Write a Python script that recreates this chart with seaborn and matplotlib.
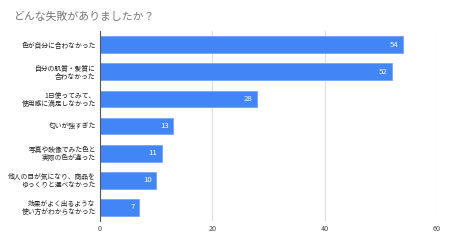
import matplotlib
matplotlib.use("Agg")
import matplotlib.pyplot as plt
import seaborn as sns
import pandas as pd

categories = [
    "色が自分に合わなかった",
    "自分の肌質・髪質に\n合わなかった",
    "1日使ってみて、\n使用感に満足しなかった",
    "匂いが強すぎた",
    "写真や映像でみた色と\n実際の色が違った",
    "他人の目が気になり、商品を\nゆっくりと選べなかった",
    "効果がよく出るような\n使い方がわからなかった",
]
values = [54, 52, 28, 13, 11, 10, 7]
xticks = [0, 20, 40, 60]
title = "どんな失敗がありましたか？"

sns.set_theme(style="white")
plt.rcParams['font.family'] = ['Noto Sans CJK JP', 'DejaVu Sans']

df = pd.DataFrame({"cat": categories, "val": values})

fig = plt.figure(figsize=(4.5, 2.43), dpi=100)
ax = fig.add_axes([0.222, 0.0905, 0.749, 0.7815])

sns.barplot(data=df, x="val", y="cat", orient="h", color="#4285F4",
            saturation=1, width=0.62, ax=ax, edgecolor="#6d9ef7", linewidth=0.5)

ax.set_xlim(0, 60)
ax.set_xticks(xticks)
ax.set_xticklabels([str(t) for t in xticks], fontsize=5.2, color="#444444")
ax.tick_params(axis="x", length=0, pad=3)
ax.tick_params(axis="y", length=0, pad=3, labelsize=4.9, labelcolor="#222222")
for lbl in ax.get_yticklabels():
    lbl.set_multialignment("right")
    lbl.set_linespacing(1.0)
ax.set_xlabel("")
ax.set_ylabel("")
ax.xaxis.grid(True, color="#dddddd", linewidth=0.8)
ax.set_axisbelow(True)
for s in ["top", "right", "bottom"]:
    ax.spines[s].set_visible(False)
ax.spines["left"].set_color("#555555")
ax.spines["left"].set_linewidth(0.8)

for i, v in enumerate(values):
    ax.text(v - 0.8, i, str(v), ha="right", va="center", color="white", fontsize=5.6)

fig.text(0.029, 0.93, title, fontsize=7.8, color="#757575", ha="left", va="center")

fig.savefig("out.png", dpi=100)
